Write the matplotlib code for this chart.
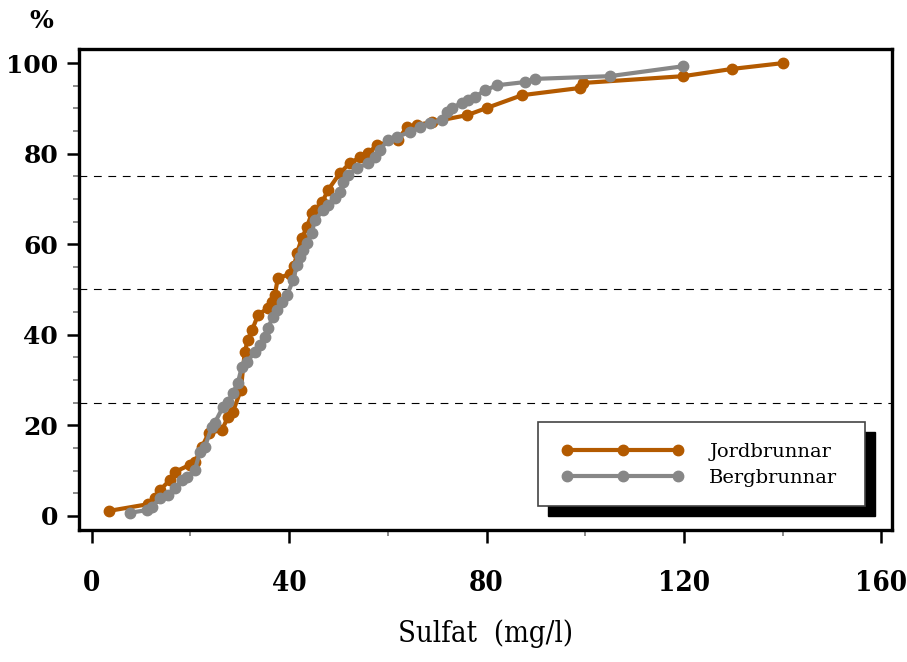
import matplotlib
matplotlib.use("Agg")
import matplotlib.pyplot as plt
from matplotlib.patches import Rectangle
from matplotlib.ticker import MultipleLocator

# ----------------------------------
# data
# ----------------------------------
jord_x = [3.4, 11.4, 12.8, 13.8, 15.8, 16.8, 19.9, 20.9, 22.3, 23.7, 26.4, 27.6, 28.6,
          30.2, 31.0, 31.6, 32.5, 33.7, 35.7, 36.5, 37.1, 37.7, 40.2, 41.0, 41.6,
          42.6, 43.6, 44.6, 45.2, 46.7, 47.9, 50.3, 52.3, 54.4, 56.0, 57.8, 62.0,
          63.9, 65.9, 69.0, 76.1, 80.1, 87.2, 99.0, 99.6, 119.9, 129.8, 140.2]
jord_y = [1.1, 2.6, 4.0, 5.7, 7.9, 9.7, 11.3, 11.9, 15.2, 18.3, 19.0, 21.9, 23.0,
          27.8, 36.2, 38.9, 41.1, 44.4, 45.9, 47.2, 48.8, 52.5, 53.4, 55.2, 58.1,
          61.4, 63.8, 66.9, 67.5, 69.3, 72.0, 75.7, 77.9, 79.2, 80.1, 81.9, 83.0,
          85.9, 86.3, 87.0, 88.5, 90.1, 92.9, 94.5, 95.6, 97.1, 98.7, 100.0]

berg_x = [7.7, 11.2, 12.2, 13.8, 15.4, 16.8, 18.3, 19.3, 20.9, 21.9, 22.9, 24.3, 24.9,
          26.6, 27.6, 28.6, 29.6, 30.4, 31.4, 33.1, 34.1, 35.1, 35.7, 36.7, 37.5,
          38.5, 39.6, 40.8, 41.6, 42.2, 42.8, 43.6, 44.6, 45.2, 46.9, 47.9, 49.3,
          50.3, 50.9, 51.9, 53.8, 56.0, 57.4, 58.4, 60.0, 61.9, 64.5, 66.5, 68.6,
          71.0, 72.0, 73.0, 75.0, 76.3, 77.7, 79.7, 82.2, 87.8, 89.9, 105.0, 119.9]
berg_y = [0.7, 1.3, 2.0, 4.0, 4.6, 6.2, 7.9, 8.6, 10.2, 14.1, 15.2, 19.6, 20.5,
          24.1, 25.2, 27.2, 29.4, 32.9, 34.0, 36.2, 37.7, 39.5, 41.5, 43.9, 45.5,
          47.2, 48.8, 52.1, 55.4, 57.2, 58.7, 60.3, 62.5, 65.3, 67.5, 68.7, 70.2,
          71.5, 73.7, 75.3, 76.8, 77.9, 79.2, 80.8, 83.0, 83.7, 84.8, 85.9, 86.8,
          87.4, 89.2, 90.1, 91.2, 91.8, 92.5, 94.0, 95.1, 95.8, 96.5, 97.1, 99.3]

quartiles = [25, 50, 75]
x_ticks = [0, 40, 80, 120, 160]
y_ticks = [0, 20, 40, 60, 80, 100]

orange = '#b35a00'
grey = '#878787'

# ----------------------------------
# figure
# ----------------------------------
fig = plt.figure(figsize=(9.07, 6.62), dpi=100)
ax = fig.add_axes([0.0871, 0.1994, 0.8964, 0.7266])

for q in quartiles:
    ax.axhline(q, color='black', linewidth=0.8, linestyle=(0, (7, 6)), zorder=1)

ax.plot(jord_x, jord_y, color=orange, linewidth=3, marker='o', markersize=7.5,
        label='Jordbrunnar', zorder=3)
ax.plot(berg_x, berg_y, color=grey, linewidth=3, marker='o', markersize=7.5,
        label='Bergbrunnar', zorder=4)

ax.set_xlim(-2.6, 162.2)
ax.set_ylim(-3.1, 103.1)
ax.set_xticks(x_ticks)
ax.set_yticks(y_ticks)
ax.xaxis.set_minor_locator(MultipleLocator(20))
ax.yaxis.set_minor_locator(MultipleLocator(5))

for sp in ax.spines.values():
    sp.set_linewidth(2.4)

ax.tick_params(axis='both', which='major', direction='out', length=9, width=1.8,
               color='black')
ax.tick_params(axis='y', which='major', pad=6)
ax.tick_params(axis='x', which='major', pad=20)
ax.tick_params(axis='both', which='minor', direction='out', length=4.5, width=1.2,
               color='#777777')

for lab in ax.get_yticklabels():
    lab.set_family('DejaVu Serif')
    lab.set_fontweight('bold')
    lab.set_fontsize(18)
for lab in ax.get_xticklabels():
    lab.set_family('DejaVu Serif')
    lab.set_fontstretch('condensed')
    lab.set_fontweight('bold')
    lab.set_fontsize(20)

ax.set_xlabel('Sulfat  (mg/l)', family='DejaVu Serif', fontstretch='condensed',
              fontsize=21, labelpad=16)
fig.text(0.046, 0.968, '%', family='DejaVu Serif', fontweight='bold', fontsize=18,
         ha='center', va='center')

# legend box with black drop shadow
fig.patches.append(Rectangle((0.6042, 0.2205), 0.3605, 0.1269, transform=fig.transFigure,
                             facecolor='black', edgecolor='black', zorder=5))
fig.patches.append(Rectangle((0.5932, 0.2356), 0.3605, 0.1269, transform=fig.transFigure,
                             facecolor='white', edgecolor='#444444', linewidth=1.2, zorder=6))
leg = fig.legend(loc='center left', bbox_to_anchor=(0.619, 0.298), frameon=False,
                 numpoints=3, handlelength=6.3, handletextpad=1.3, labelspacing=0.4,
                 prop={'family': 'DejaVu Serif', 'size': 14}, borderaxespad=0,
                 borderpad=0)
leg.set_zorder(7)

plt.savefig('out.png', dpi=100)
